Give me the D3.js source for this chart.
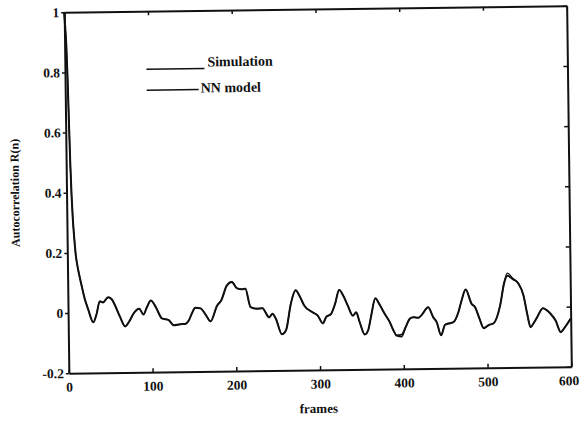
<!DOCTYPE html>
<html>
<head>
<meta charset="utf-8">
<script src="https://cdn.jsdelivr.net/npm/d3@7"></script>
<style>
  html, body { margin: 0; padding: 0; background: #fff; }
  svg { display: block; }
  .tick-label, .axis-title, .legend-text {
    font-family: "Liberation Serif", "DejaVu Serif", serif;
    font-weight: bold;
    fill: #111;
  }
</style>
</head>
<body>
<svg id="chart" width="580" height="423"></svg>
<script>
// lag (frames) at which the curves were read
const frames = [0, 1, 2, 3, 4, 5, 6, 7, 8, 9, 10, 12, 14, 17, 20, 24, 30, 34, 38, 42, 48, 52, 56, 62, 68, 73, 78, 85, 90, 94, 99, 105, 112, 120, 126, 133, 140, 144, 148, 152, 158, 164, 170, 178, 183, 190, 196, 202, 208, 212, 218, 226, 232, 240, 244, 248, 255, 260, 266, 272, 277, 282, 292, 298, 304, 308, 314, 319, 324, 329, 334, 340, 344, 348, 354, 358, 362, 367, 372, 378, 384, 388, 392, 398, 403, 408, 412, 418, 422, 430, 436, 440, 445, 450, 460, 466, 470, 475, 482, 486, 491, 496, 502, 508, 516, 521, 525, 532, 538, 544, 548, 552, 556, 560, 567, 571, 576, 582, 588, 592, 596, 600];

const simulation = [1.0, 0.95, 0.89, 0.78, 0.63, 0.49, 0.39, 0.32, 0.27, 0.23, 0.195, 0.155, 0.125, 0.085, 0.048, 0.012, -0.032, -0.005, 0.038, 0.034, 0.051, 0.045, 0.025, -0.015, -0.047, -0.03, -0.005, 0.011, -0.008, 0.015, 0.038, 0.015, -0.022, -0.028, -0.045, -0.042, -0.041, -0.03, -0.005, 0.012, 0.01, -0.01, -0.034, 0.018, 0.035, 0.085, 0.096, 0.075, 0.072, 0.073, 0.012, 0.006, 0.008, -0.023, -0.011, -0.028, -0.08, -0.066, 0.02, 0.066, 0.045, 0.015, -0.008, -0.019, -0.045, -0.025, -0.014, 0.02, 0.065, 0.045, 0.013, -0.021, -0.01, -0.043, -0.084, -0.07, -0.02, 0.036, 0.015, -0.016, -0.044, -0.07, -0.088, -0.086, -0.06, -0.033, -0.029, -0.031, -0.022, 0.004, -0.03, -0.046, -0.09, -0.055, -0.047, -0.014, 0.025, 0.061, 0.013, 0.002, -0.035, -0.068, -0.058, -0.052, 0.007, 0.08, 0.105, 0.093, 0.079, 0.039, -0.02, -0.067, -0.052, -0.034, -0.004, -0.01, -0.023, -0.046, -0.085, -0.072, -0.057, -0.04];

const nnModel = [1.0, 0.95, 0.89, 0.78, 0.63, 0.49, 0.39, 0.32, 0.27, 0.23, 0.195, 0.155, 0.125, 0.085, 0.048, 0.012, -0.032, -0.004, 0.037, 0.035, 0.05, 0.046, 0.024, -0.015, -0.046, -0.03, -0.005, 0.012, -0.008, 0.014, 0.038, 0.016, -0.022, -0.027, -0.045, -0.043, -0.04, -0.03, -0.006, 0.012, 0.011, -0.01, -0.033, 0.018, 0.036, 0.084, 0.097, 0.076, 0.071, 0.074, 0.012, 0.007, 0.008, -0.022, -0.012, -0.028, -0.079, -0.066, 0.021, 0.066, 0.044, 0.015, -0.008, -0.018, -0.045, -0.024, -0.014, 0.02, 0.066, 0.045, 0.014, -0.021, -0.01, -0.042, -0.084, -0.071, -0.02, 0.035, 0.015, -0.016, -0.045, -0.071, -0.09, -0.093, -0.061, -0.034, -0.028, -0.031, -0.022, 0.004, -0.03, -0.047, -0.09, -0.054, -0.046, -0.014, 0.025, 0.062, 0.013, 0.003, -0.035, -0.067, -0.058, -0.052, 0.008, 0.082, 0.114, 0.095, 0.08, 0.039, -0.02, -0.066, -0.052, -0.033, -0.004, -0.01, -0.023, -0.046, -0.084, -0.072, -0.056, -0.04];

const xTicks = [0, 100, 200, 300, 400, 500, 600];
const yTicks = [-0.2, 0, 0.2, 0.4, 0.6, 0.8, 1];
const yTickLabels = ['-0.2', '0', '0.2', '0.4', '0.6', '0.8', '1'];
const seriesNames = ['Simulation', 'NN model'];

(function () {
  const svg = d3.select('#chart');
  const plotLeft = 66.5, plotRight = 569, plotTop = 9, plotBottom = 370;

  const x = d3.scaleLinear().domain([0, 600]).range([plotLeft, plotRight]);
  const y = d3.scaleLinear().domain([-0.2, 1]).range([plotBottom, plotTop]);

  // the scanned figure is tilted a little (right side higher)
  const g = svg.append('g')
    .attr('transform', 'rotate(-0.74,' + (plotLeft + plotRight) / 2 + ',' + (plotTop + plotBottom) / 2 + ')');

  function styleAxis(sel) {
    sel.select('.domain').attr('stroke', '#111').attr('stroke-width', 2);
    sel.selectAll('.tick line').attr('stroke', '#111').attr('stroke-width', 1.5);
    sel.selectAll('.tick text')
      .attr('class', 'tick-label')
      .style('font-size', '13.5px')
      .attr('fill', '#111');
  }

  g.append('g')
    .attr('transform', 'translate(0,' + plotBottom + ')')
    .call(d3.axisBottom(x).tickValues(xTicks).tickFormat(d3.format('d')).tickSizeInner(-4).tickSizeOuter(0).tickPadding(9))
    .call(styleAxis)
    .selectAll('.tick text')
    .filter(function (d) { return d === 600; })
    .attr('dx', -3); // keep the last label inside the page

  g.append('g')
    .attr('transform', 'translate(0,' + plotTop + ')')
    .call(d3.axisTop(x).tickValues(xTicks).tickFormat('').tickSizeInner(-4).tickSizeOuter(0))
    .call(styleAxis);

  g.append('g')
    .attr('transform', 'translate(' + plotLeft + ',0)')
    .call(d3.axisLeft(y).tickValues(yTicks).tickFormat(function (d, i) { return yTickLabels[i]; }).tickSizeInner(3).tickSizeOuter(0).tickPadding(2))
    .call(styleAxis);

  g.append('g')
    .attr('transform', 'translate(' + plotRight + ',0)')
    .call(d3.axisRight(y).tickValues(yTicks).tickFormat('').tickSizeInner(-4).tickSizeOuter(0))
    .call(styleAxis);

  const line = d3.line()
    .x(function (d) { return x(d[0]); })
    .y(function (d) { return y(d[1]); })
    .curve(d3.curveMonotoneX);

  [simulation, nnModel].forEach(function (vals, i) {
    g.append('path')
      .datum(frames.map(function (f, k) { return [f, vals[k]]; }))
      .attr('fill', 'none')
      .attr('stroke', '#111')
      .attr('stroke-width', i === 0 ? 2 : 1.3)
      .attr('stroke-linejoin', 'round')
      .attr('d', line);
  });

  // legend
  const legend = g.append('g');
  const legendRows = [
    { x1: 148, x2: 206, y: 67, tx: 209, ty: 65 },
    { x1: 148, x2: 200, y: 88, tx: 202, ty: 91 }
  ];
  seriesNames.forEach(function (name, i) {
    const r = legendRows[i];
    legend.append('line')
      .attr('x1', r.x1).attr('x2', r.x2)
      .attr('y1', r.y).attr('y2', r.y)
      .attr('stroke', '#111').attr('stroke-width', 1.6);
    legend.append('text')
      .attr('class', 'legend-text')
      .attr('x', r.tx).attr('y', r.ty)
      .style('font-size', '14px')
      .text(name);
  });

  g.append('text')
    .attr('class', 'axis-title')
    .attr('x', 316).attr('y', 413)
    .attr('text-anchor', 'middle')
    .style('font-size', '13px')
    .text('frames');

  g.append('text')
    .attr('class', 'axis-title')
    .attr('transform', 'translate(19,189) rotate(-90)')
    .attr('text-anchor', 'middle')
    .style('font-size', '12px')
    .text('Autocorrelation R(n)');
})();
</script>
</body>
</html>
